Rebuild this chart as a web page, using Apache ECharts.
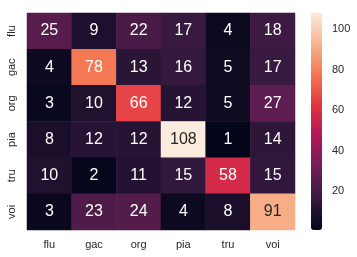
<!DOCTYPE html>
<html>
<head>
<meta charset="utf-8">
<script src="https://cdn.jsdelivr.net/npm/echarts@6/dist/echarts.min.js"></script>
<style>html,body{margin:0;padding:0;background:#fff;}#c{width:357px;height:257px;}</style>
</head>
<body>
<div id="c"></div>
<script>
const categories = ['flu', 'gac', 'org', 'pia', 'tru', 'voi'];
const rowFlu = [25, 9, 22, 17, 4, 18];
const rowGac = [4, 78, 13, 16, 5, 17];
const rowOrg = [3, 10, 66, 12, 5, 27];
const rowPia = [8, 12, 12, 108, 1, 14];
const rowTru = [10, 2, 11, 15, 58, 15];
const rowVoi = [3, 23, 24, 4, 8, 91];
const colorbarTicks = [20, 40, 60, 80, 100];
const rows = [rowFlu, rowGac, rowOrg, rowPia, rowTru, rowVoi];
const vmin = 1, vmax = 108;

const data = [];
rows.forEach((r, yi) => r.forEach((v, xi) => {
  data.push({
    value: [xi, yi, v],
    label: { color: v > 85 ? '#262626' : '#ffffff' }
  });
}));

const rocket = ['#03051a', '#35193e', '#701f57', '#ad1759', '#e13342', '#f37651', '#f6b48f', '#faebdd'];
const font = 'Liberation Sans, Arial, sans-serif';

const chart = echarts.init(document.getElementById('c'));
chart.setOption({
  animation: false,
  backgroundColor: '#ffffff',
  grid: [
    { left: 27, top: 13, width: 268, height: 217 },
    { left: 311, top: 13, width: 11, height: 217, show: false }
  ],
  xAxis: [
    { type: 'category', data: categories, gridIndex: 0,
      axisLine: { show: false }, axisTick: { show: false }, splitLine: { show: false },
      axisLabel: { color: '#262626', fontSize: 11, fontFamily: font, margin: 9 } },
    { type: 'value', gridIndex: 1, show: false, min: 0, max: 1 }
  ],
  yAxis: [
    { type: 'category', data: categories, gridIndex: 0, inverse: true,
      axisLine: { show: false }, axisTick: { show: false }, splitLine: { show: false },
      axisLabel: { color: '#262626', fontSize: 11, fontFamily: font, rotate: 90, margin: 10 } },
    { type: 'value', gridIndex: 1, position: 'right', min: vmin, max: vmax,
      axisLine: { show: false }, splitLine: { show: false },
      axisTick: { show: true, length: 6, lineStyle: { color: '#262626', width: 1 }, customValues: colorbarTicks },
      axisLabel: { color: '#262626', fontSize: 11, fontFamily: font, margin: 10, customValues: colorbarTicks } }
  ],
  visualMap: {
    type: 'continuous', min: vmin, max: vmax, calculable: false,
    orient: 'vertical', left: 311, top: 13, itemWidth: 11, itemHeight: 217,
    padding: 0, text: null, showLabel: false, seriesIndex: 0,
    inRange: { color: rocket }
  },
  series: [{
    type: 'heatmap', xAxisIndex: 0, yAxisIndex: 0, data: data,
    label: { show: true, fontSize: 16, fontFamily: font,
      formatter: p => String(p.value[2]) },
    itemStyle: { borderWidth: 0 }
  }]
});
</script>
</body>
</html>
